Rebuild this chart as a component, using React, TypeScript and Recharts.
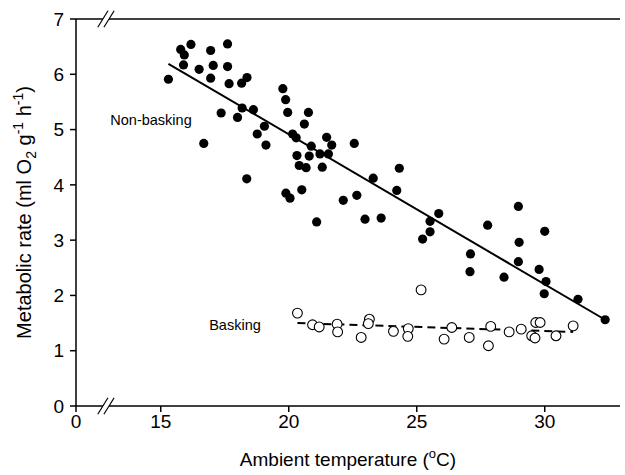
import React from 'react';
import { ScatterChart, Scatter, XAxis, YAxis, ReferenceLine, ReferenceDot, Label } from 'recharts';

const FONT = '"Liberation Sans", Arial, sans-serif';

// Non-basking measurements (ambient temp in °C, metabolic rate)
const nonBaskingTemp = [
  15.3, 15.78, 15.92, 15.89, 16.18, 16.5, 16.68, 16.95, 17.05, 16.95, 17.61, 17.61, 17.67, 17.36,
  18.0, 18.18, 18.16, 18.37, 18.62, 18.77, 18.36, 19.05, 19.11, 19.77, 19.88, 19.96, 20.77, 20.61,
  20.15, 20.29, 20.32, 20.8, 20.88, 21.22, 21.55, 21.48, 21.68, 20.41, 20.68, 21.31, 22.56, 19.89,
  20.05, 20.51, 22.13, 22.66, 21.09, 22.98, 23.61, 23.3, 24.32, 24.22, 25.86, 25.52, 25.52, 25.23,
  27.1, 27.08, 28.97, 27.77, 30.0, 29.0, 28.97, 28.41, 29.78, 30.05, 29.98, 31.3, 32.36,
];
const nonBaskingRate = [
  5.91, 6.45, 6.35, 6.17, 6.54, 6.09, 4.75, 6.43, 6.16, 5.93, 6.55, 6.14, 5.83, 5.3,
  5.22, 5.39, 5.84, 5.94, 5.36, 4.92, 4.11, 5.06, 4.72, 5.74, 5.54, 5.31, 5.31, 5.1,
  4.92, 4.85, 4.53, 4.52, 4.7, 4.56, 4.56, 4.86, 4.72, 4.35, 4.31, 4.32, 4.75, 3.85,
  3.76, 3.91, 3.72, 3.81, 3.33, 3.38, 3.4, 4.12, 4.3, 3.9, 3.48, 3.34, 3.15, 3.02,
  2.75, 2.43, 3.61, 3.27, 3.16, 2.96, 2.61, 2.33, 2.47, 2.25, 2.03, 1.93, 1.56,
];

// Basking measurements
const baskingTemp = [
  20.34, 20.93, 21.19, 21.89, 21.91, 23.15, 23.11, 22.83, 24.09, 24.67, 24.65, 25.17, 26.37,
  26.07, 27.05, 27.89, 27.8, 28.61, 29.08, 29.65, 29.82, 29.49, 29.62, 30.44, 31.11,
];
const baskingRate = [
  1.68, 1.47, 1.43, 1.48, 1.34, 1.57, 1.49, 1.24, 1.35, 1.4, 1.26, 2.1, 1.42,
  1.21, 1.24, 1.44, 1.09, 1.34, 1.39, 1.51, 1.51, 1.27, 1.23, 1.27, 1.45,
];

// regression lines (end points)
const nonBaskingFitTemp = [15.3, 32.36];
const nonBaskingFitRate = [6.19, 1.56];
const baskingFitTemp = [20.34, 31.11];
const baskingFitRate = [1.5, 1.34];

// first x tick sits before the axis break and is labelled 0
const xTicks = [11.69, 15, 20, 25, 30];
const xTickLabels = ['0', '15', '20', '25', '30'];
const yTicks = [0, 1, 2, 3, 4, 5, 6, 7];

const X_MIN = 11.69;
const X_MAX = 32.94;
const BREAK_LEFT = 12.74;
const BREAK_RIGHT = 12.98;

const toPoints = (xs: number[], ys: number[]) => xs.map((t, i) => ({ temp: t, rate: ys[i] }));

const FilledDot = (props: any) => <circle cx={props.cx} cy={props.cy} r={4.6} fill="#000" />;
const OpenDot = (props: any) => (
  <circle cx={props.cx} cy={props.cy} r={4.9} fill="#fff" stroke="#000" strokeWidth={1.1} />
);
const NoDot = () => <g />;

const YTitle = (props: any) => {
  const vb = props.viewBox || { y: 19, height: 387 };
  const cx = 31;
  const cy = vb.y + vb.height / 2;
  return (
    <text
      x={cx}
      y={cy}
      transform={`rotate(-90 ${cx} ${cy})`}
      textAnchor="middle"
      fontFamily={FONT}
      fontSize={20}
      fill="#000"
    >
      Metabolic rate (ml O<tspan dy={5} fontSize={14}>2</tspan>
      <tspan dy={-5}> g</tspan>
      <tspan dy={-8} fontSize={14}>-1</tspan>
      <tspan dy={8}> h</tspan>
      <tspan dy={-8} fontSize={14}>-1</tspan>
      <tspan dy={8}>)</tspan>
    </text>
  );
};

const XTitle = (props: any) => {
  const vb = props.viewBox || { x: 76, width: 544 };
  const cx = vb.x + vb.width / 2;
  return (
    <text x={cx} y={466} textAnchor="middle" fontFamily={FONT} fontSize={19} fill="#000">
      Ambient temperature (<tspan dy={-8} fontSize={13}>o</tspan>
      <tspan dy={8}>C)</tspan>
    </text>
  );
};

const axisStroke = { stroke: '#000', strokeWidth: 1.5 };
const tickStyle = { fill: '#000', fontSize: 19, fontFamily: FONT };

export default function App() {
  return (
    <div style={{ position: 'absolute', left: 0, top: 0, width: 625, height: 475, background: '#fff' }}>
      <ScatterChart width={625} height={475} margin={{ top: 19, right: 5, bottom: 0, left: 0 }}>
        <XAxis
          type="number"
          dataKey="temp"
          domain={[X_MIN, X_MAX]}
          ticks={xTicks}
          interval={0}
          allowDataOverflow
          tickFormatter={(v: number, i: number) => xTickLabels[i]}
          axisLine={false}
          tickLine={axisStroke}
          tickSize={6}
          tickMargin={3}
          tick={tickStyle}
          height={69}
        >
          <Label content={<XTitle />} />
        </XAxis>
        <YAxis
          type="number"
          dataKey="rate"
          domain={[0, 7]}
          ticks={yTicks}
          interval={0}
          axisLine={axisStroke}
          tickLine={axisStroke}
          tickSize={6}
          tickMargin={6}
          tick={tickStyle}
          width={76}
        >
          <Label content={<YTitle />} />
        </YAxis>

        {/* broken bottom and top axes */}
        <ReferenceLine segment={[{ x: X_MIN, y: 0 }, { x: BREAK_LEFT, y: 0 }]} stroke="#000" strokeWidth={1.5} ifOverflow="visible" />
        <ReferenceLine segment={[{ x: BREAK_RIGHT, y: 0 }, { x: X_MAX, y: 0 }]} stroke="#000" strokeWidth={1.5} ifOverflow="visible" />
        <ReferenceLine segment={[{ x: X_MIN, y: 7 }, { x: BREAK_LEFT, y: 7 }]} stroke="#000" strokeWidth={1.5} ifOverflow="visible" />
        <ReferenceLine segment={[{ x: BREAK_RIGHT, y: 7 }, { x: X_MAX, y: 7 }]} stroke="#000" strokeWidth={1.5} ifOverflow="visible" />
        {[0, 7].map((yy) =>
          [BREAK_LEFT, BREAK_RIGHT].map((bx) => (
            <ReferenceLine
              key={`${yy}-${bx}`}
              segment={[{ x: bx - 0.2, y: yy - 0.15 }, { x: bx + 0.2, y: yy + 0.15 }]}
              stroke="#000"
              strokeWidth={1.2}
              ifOverflow="visible"
            />
          ))
        )}

        <Scatter
          data={toPoints(nonBaskingFitTemp, nonBaskingFitRate)}
          line={{ stroke: '#000', strokeWidth: 2 }}
          shape={NoDot}
          isAnimationActive={false}
        />
        <Scatter
          data={toPoints(baskingFitTemp, baskingFitRate)}
          line={{ stroke: '#000', strokeWidth: 2, strokeDasharray: '8 5' }}
          shape={NoDot}
          isAnimationActive={false}
        />
        <Scatter data={toPoints(nonBaskingTemp, nonBaskingRate)} shape={FilledDot} isAnimationActive={false} />
        <Scatter data={toPoints(baskingTemp, baskingRate)} shape={OpenDot} isAnimationActive={false} />

        <ReferenceDot
          x={14.62}
          y={5.18}
          r={0}
          stroke="none"
          label={{ value: 'Non-basking', position: 'center', fill: '#000', fontSize: 14.5, fontFamily: FONT }}
        />
        <ReferenceDot
          x={17.9}
          y={1.47}
          r={0}
          stroke="none"
          label={{ value: 'Basking', position: 'center', fill: '#000', fontSize: 14.5, fontFamily: FONT }}
        />
      </ScatterChart>
    </div>
  );
}
